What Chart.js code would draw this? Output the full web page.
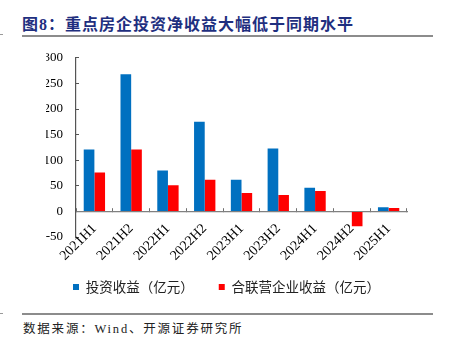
<!DOCTYPE html>
<html>
<head>
<meta charset="utf-8">
<script src="https://cdn.jsdelivr.net/npm/chart.js@4.4.0/dist/chart.umd.min.js"></script>
<style>
    body { margin: 0; background: #fff; width: 451px; height: 347px; position: relative; overflow: hidden; }
    .title { position: absolute; left: 22px; top: 11px; font-family: "Liberation Serif", "Noto Sans CJK SC"; font-weight: bold; font-size: 16px; letter-spacing: 1px; color: #1f2f7f; white-space: nowrap; }
    .rule { position: absolute; left: 22px; width: 411px; height: 1.5px; background: #8c8c8c; }
    .tick-mark { position: absolute; left: 0; width: 3px; height: 1px; background: #9a9a9a; }
    .source { position: absolute; left: 23px; top: 318px; font-family: "Liberation Serif", "Noto Sans CJK SC"; font-size: 12.5px; letter-spacing: 1.8px; color: #222; white-space: nowrap; }
    #wrap { position: absolute; left: 30px; top: 34px; width: 421px; height: 272px; }
</style>
</head>
<body>
<div class="title">图8：重点房企投资净收益大幅低于同期水平</div>
<div class="rule" style="top: 35px;"></div>
<div class="tick-mark" style="top: 34px;"></div>
<div id="wrap"><canvas id="chart1"></canvas></div>
<div class="rule" style="top: 313px;"></div>
<div class="tick-mark" style="top: 313px;"></div>
<div class="source">数据来源：Wind、开源证券研究所</div>

<script>
// Half-year periods
const periods = ["2021H1", "2021H2", "2022H1", "2022H2", "2023H1", "2023H2", "2024H1", "2024H2", "2025H1"];

// Values (亿元)
const investIncome = [121, 268, 80, 175, 62, 123, 46, -1, 8];
const jvIncome = [76, 121, 51, 62, 36, 32, 40, -29, 6.5];

// Y axis range
const yMin = -50;
const yMax = 300;
const yStep = 50;

const serif = "'Liberation Serif', 'Times New Roman', serif";

new Chart(document.getElementById("chart1").getContext("2d"), {
    type: "bar",
    data: {
        labels: periods,
        datasets: [{
            label: "投资收益（亿元）",
            data: investIncome,
            backgroundColor: "#0070C0",
            borderWidth: 0,
            barPercentage: 1,
            categoryPercentage: 0.58
        }, {
            label: "合联营企业收益（亿元）",
            data: jvIncome,
            backgroundColor: "#FF0000",
            borderWidth: 0,
            barPercentage: 1,
            categoryPercentage: 0.58
        }]
    },
    options: {
        responsive: true,
        maintainAspectRatio: false,
        animation: false,
        layout: {
            // top is set by the y label padding, so no extra here
            padding: { left: 16, right: 44, top: 0, bottom: 2.3 }
        },
        plugins: {
            tooltip: { enabled: false },
            legend: {
                display: true,
                position: "bottom",
                title: {
                    display: true,
                    text: "",
                    font: { size: 1 },
                    padding: { top: 17, bottom: 0 }
                },
                labels: {
                    boxWidth: 6,
                    boxHeight: 6,
                    padding: 25,
                    color: "#222",
                    font: { family: "'Noto Sans CJK SC'", size: 13.5 }
                }
            }
        },
        scales: {
            x: {
                position: { y: 0 },
                grid: {
                    drawOnChartArea: false,
                    drawTicks: true,
                    tickLength: -4,
                    color: "#707070"
                },
                border: { display: true, color: "#808080", width: 1.2 },
                ticks: {
                    color: "#000",
                    font: { family: serif, size: 14 },
                    maxRotation: 45,
                    minRotation: 45,
                    padding: 13
                }
            },
            y: {
                min: yMin,
                max: yMax,
                afterFit: function(scale) {
                    scale.width = 30;
                },
                grid: {
                    drawOnChartArea: false,
                    drawTicks: true,
                    tickLength: -3,
                    color: "#555"
                },
                border: { display: true, color: "#555", width: 1.2 },
                ticks: {
                    stepSize: yStep,
                    color: "#000",
                    font: { family: serif, size: 13 },
                    padding: 16
                }
            }
        }
    }
});
</script>
</body>
</html>
